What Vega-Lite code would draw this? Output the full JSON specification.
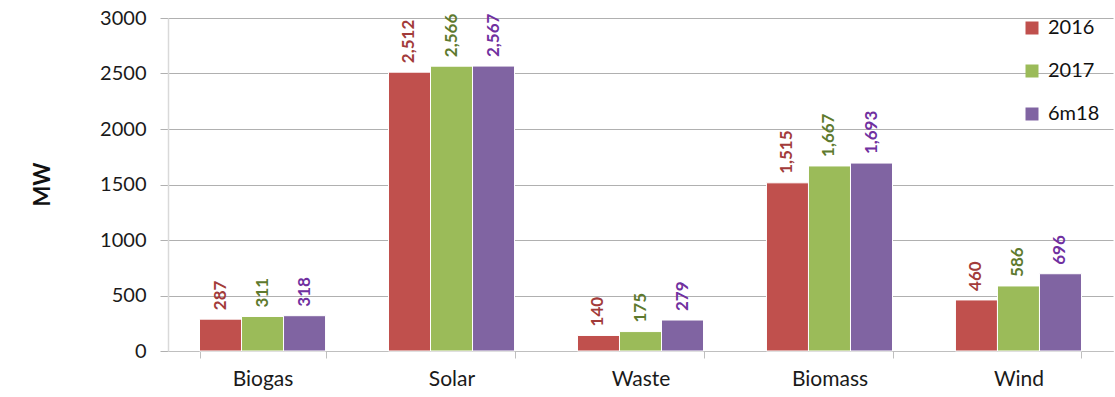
{
  "$schema": "https://vega.github.io/schema/vega-lite/v6.json",
  "autosize": "none",
  "width": 945,
  "height": 333,
  "padding": {"left": 168, "top": 18, "right": 2, "bottom": 46},
  "background": "white",
  "config": {
    "font": "Lato",
    "view": {"stroke": null}
  },
  "data": {
    "values": [
      {"source": "Biogas", "period": "2016", "mw": 287},
      {"source": "Biogas", "period": "2017", "mw": 311},
      {"source": "Biogas", "period": "6m18", "mw": 318},
      {"source": "Solar", "period": "2016", "mw": 2512},
      {"source": "Solar", "period": "2017", "mw": 2566},
      {"source": "Solar", "period": "6m18", "mw": 2567},
      {"source": "Waste", "period": "2016", "mw": 140},
      {"source": "Waste", "period": "2017", "mw": 175},
      {"source": "Waste", "period": "6m18", "mw": 279},
      {"source": "Biomass", "period": "2016", "mw": 1515},
      {"source": "Biomass", "period": "2017", "mw": 1667},
      {"source": "Biomass", "period": "6m18", "mw": 1693},
      {"source": "Wind", "period": "2016", "mw": 460},
      {"source": "Wind", "period": "2017", "mw": 586},
      {"source": "Wind", "period": "6m18", "mw": 696}
    ]
  },
  "encoding": {
    "x": {
      "field": "source",
      "type": "nominal",
      "sort": ["Biogas", "Solar", "Waste", "Biomass", "Wind"],
      "scale": {"paddingInner": 0.333, "paddingOuter": 0.1667},
      "axis": {
        "title": null,
        "labelAngle": 0,
        "labelFontSize": 21,
        "labelColor": "#1a1a1a",
        "labelPadding": 10,
        "domainColor": "#bfbfbf",
        "tickColor": "#bfbfbf",
        "tickBand": "extent",
        "tickSize": 7
      }
    },
    "xOffset": {
      "field": "period",
      "type": "nominal",
      "sort": ["2016", "2017", "6m18"],
      "scale": {"paddingInner": 0, "paddingOuter": 0}
    },
    "y": {
      "field": "mw",
      "type": "quantitative",
      "scale": {"domain": [0, 3000], "nice": false},
      "axis": {
        "title": "MW",
        "titleFontSize": 22,
        "titleFontWeight": "bold",
        "titleColor": "#111111",
        "titleX": -126,
        "titleY": 166,
        "titleBaseline": "middle",
        "values": [0, 500, 1000, 1500, 2000, 2500, 3000],
        "format": "d",
        "labelFontSize": 20,
        "labelColor": "#1a1a1a",
        "labelPadding": 14,
        "tickSize": 8,
        "tickColor": "#b0b0b0",
        "gridColor": "#b0b0b0",
        "domainColor": "#d9d9d9",
        "domainWidth": 1.5
      }
    }
  },
  "layer": [
    {
      "mark": {"type": "bar", "stroke": "white", "strokeWidth": 1},
      "encoding": {
        "color": {
          "field": "period",
          "type": "nominal",
          "sort": ["2016", "2017", "6m18"],
          "scale": {
            "domain": ["2016", "2017", "6m18"],
            "range": ["#C0504D", "#9BBB59", "#8064A2"]
          },
          "legend": {
            "title": null,
            "orient": "none",
            "legendX": 854,
            "legendY": 0,
            "symbolType": "square",
            "symbolSize": 169,
            "symbolStrokeWidth": 0,
            "symbolOpacity": 1,
            "labelFontSize": 20,
            "labelColor": "#111111",
            "labelOffset": 6,
            "rowPadding": 23
          }
        }
      }
    },
    {
      "mark": {
        "type": "text",
        "angle": -90,
        "align": "left",
        "baseline": "middle",
        "dx": 9,
        "fontSize": 17,
        "fontWeight": "bold"
      },
      "encoding": {
        "text": {"field": "mw", "type": "quantitative", "format": ","},
        "color": {
          "field": "period",
          "type": "nominal",
          "scale": {
            "domain": ["2016", "2017", "6m18"],
            "range": ["#A23B3A", "#5E7A2E", "#7030A0"]
          },
          "legend": null
        }
      }
    }
  ],
  "resolve": {"scale": {"color": "independent"}}
}
